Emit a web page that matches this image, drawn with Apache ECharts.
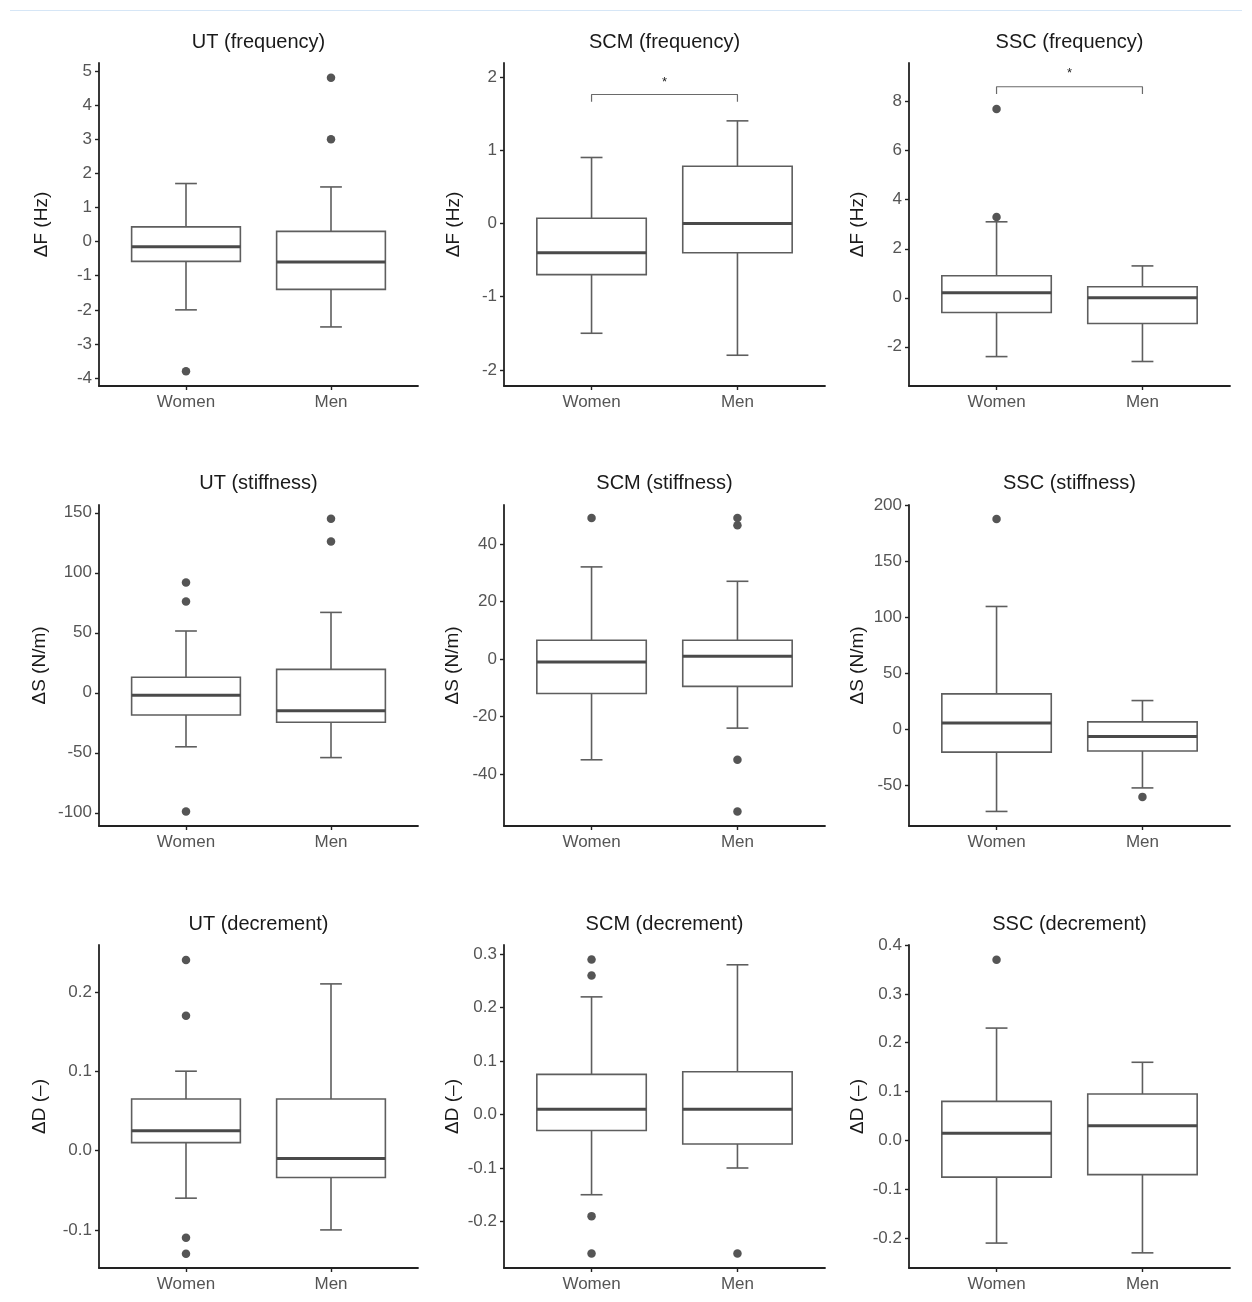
<!DOCTYPE html>
<html>
<head>
<meta charset="utf-8">
<title>Boxplots</title>
<script src="https://cdn.jsdelivr.net/npm/echarts@6/dist/echarts.min.js"></script>
<style>
  html, body { margin: 0; padding: 0; background: #ffffff; }
  #chart { width: 1252px; height: 1302px; }
</style>
</head>
<body>
<div id="chart"></div>
<script>
// categories
const groups = ['Women', 'Men'];

// box stats per group: [lower whisker, Q1, median, Q3, upper whisker]
const utFreqBox = [[-2.0, -0.58, -0.15, 0.43, 1.7], [-2.5, -1.4, -0.6, 0.3, 1.6]];
const scmFreqBox = [[-1.5, -0.7, -0.4, 0.07, 0.9], [-1.8, -0.4, 0.0, 0.78, 1.4]];
const sscFreqBox = [[-2.4, -0.6, 0.2, 0.9, 3.1], [-2.6, -1.05, 0.0, 0.45, 1.3]];
const utStiffBox = [[-45, -18.5, -2, 13, 51.5], [-54, -24.5, -15, 19.5, 67]];
const scmStiffBox = [[-35, -12, -1, 6.5, 32], [-24, -9.5, 1, 6.5, 27]];
const sscStiffBox = [[-73, -20, 6, 32, 110], [-52, -19, -6, 7, 26]];
const utDecBox = [[-0.06, 0.01, 0.025, 0.065, 0.1], [-0.1, -0.034, -0.01, 0.065, 0.21]];
const scmDecBox = [[-0.15, -0.03, 0.01, 0.075, 0.22], [-0.1, -0.055, 0.01, 0.08, 0.28]];
const sscDecBox = [[-0.21, -0.075, 0.015, 0.08, 0.23], [-0.23, -0.07, 0.03, 0.095, 0.16]];

// outliers per group
const utFreqOut = [[-3.8], [4.8, 3.0]];
const scmFreqOut = [[], []];
const sscFreqOut = [[7.7, 3.3], []];
const utStiffOut = [[92, 76, -99], [145, 126]];
const scmStiffOut = [[49], [49, 46.5, -35, -53]];
const sscStiffOut = [[188], [-60]];
const utDecOut = [[0.24, 0.17, -0.11, -0.13], []];
const scmDecOut = [[0.29, 0.26, -0.19, -0.26], [-0.26]];
const sscDecOut = [[0.37], []];

// y tick labels
const utFreqTicks = [-4, -3, -2, -1, 0, 1, 2, 3, 4, 5];
const scmFreqTicks = [-2, -1, 0, 1, 2];
const sscFreqTicks = [-2, 0, 2, 4, 6, 8];
const utStiffTicks = [-100, -50, 0, 50, 100, 150];
const scmStiffTicks = [-40, -20, 0, 20, 40];
const sscStiffTicks = [-50, 0, 50, 100, 150, 200];
const utDecTicks = [-0.1, 0.0, 0.1, 0.2];
const scmDecTicks = [-0.2, -0.1, 0.0, 0.1, 0.2, 0.3];
const sscDecTicks = [-0.2, -0.1, 0.0, 0.1, 0.2, 0.3, 0.4];

// y axis limits [min, max]
const utFreqRange = [-4.23, 5.23];
const scmFreqRange = [-2.22, 2.19];
const sscFreqRange = [-3.6, 9.58];
const utStiffRange = [-111, 156.5];
const scmStiffRange = [-58, 53.5];
const sscStiffRange = [-86, 200.6];
const utDecRange = [-0.148, 0.259];
const scmDecRange = [-0.287, 0.317];
const sscDecRange = [-0.261, 0.4];

// significance brackets: [bracket y, tip y, star y]
const scmFreqSig = [1.76, 1.66, 1.93];
const sscFreqSig = [8.61, 8.31, 9.15];

const panelTitles = [
  'UT (frequency)', 'SCM (frequency)', 'SSC (frequency)',
  'UT (stiffness)', 'SCM (stiffness)', 'SSC (stiffness)',
  'UT (decrement)', 'SCM (decrement)', 'SSC (decrement)'
];
const yNames = [
  'ΔF (Hz)', 'ΔF (Hz)', 'ΔF (Hz)',
  'ΔS (N/m)', 'ΔS (N/m)', 'ΔS (N/m)',
  'ΔD (–)', 'ΔD (–)', 'ΔD (–)'
];

const panels = [
  { box: utFreqBox, out: utFreqOut, ticks: utFreqTicks, range: utFreqRange, dec: 0 },
  { box: scmFreqBox, out: scmFreqOut, ticks: scmFreqTicks, range: scmFreqRange, dec: 0, sig: scmFreqSig },
  { box: sscFreqBox, out: sscFreqOut, ticks: sscFreqTicks, range: sscFreqRange, dec: 0, sig: sscFreqSig },
  { box: utStiffBox, out: utStiffOut, ticks: utStiffTicks, range: utStiffRange, dec: 0 },
  { box: scmStiffBox, out: scmStiffOut, ticks: scmStiffTicks, range: scmStiffRange, dec: 0 },
  { box: sscStiffBox, out: sscStiffOut, ticks: sscStiffTicks, range: sscStiffRange, dec: 0 },
  { box: utDecBox, out: utDecOut, ticks: utDecTicks, range: utDecRange, dec: 1 },
  { box: scmDecBox, out: scmDecOut, ticks: scmDecTicks, range: scmDecRange, dec: 1 },
  { box: sscDecBox, out: sscDecOut, ticks: sscDecTicks, range: sscDecRange, dec: 1 }
];

// layout
const colLeft = [99, 504, 909];
const colWidth = [319, 321, 321];
const rowTop = [63, 505, 945];
const rowHeight = [323, 321, 323];
const titleY = [41, 482, 923];
const nameGaps = [48, 41, 42, 50, 42, 42, 50, 42, 42];

const FONT = '"Liberation Sans", Arial, sans-serif';
const AXIS_COLOR = '#222';
const LABEL_COLOR = '#555';
const BOX_COLOR = '#5e5e5e';
const BOX_W = 0.75;
const CAP_W = 0.15;

function renderBox(params, api) {
  const x = api.value(0);
  const lo = api.coord([x, api.value(1)]);
  const q1 = api.coord([x, api.value(2)]);
  const med = api.coord([x, api.value(3)]);
  const q3 = api.coord([x, api.value(4)]);
  const hi = api.coord([x, api.value(5)]);
  const half = api.size([BOX_W, 0])[0] / 2;
  const cap = api.size([CAP_W, 0])[0] / 2;
  const cx = q1[0];
  const st = { stroke: BOX_COLOR, lineWidth: 1.6, fill: null };
  return {
    type: 'group',
    children: [
      { type: 'line', shape: { x1: cx, y1: q3[1], x2: cx, y2: hi[1] }, style: st },
      { type: 'line', shape: { x1: cx - cap, y1: hi[1], x2: cx + cap, y2: hi[1] }, style: st },
      { type: 'line', shape: { x1: cx, y1: q1[1], x2: cx, y2: lo[1] }, style: st },
      { type: 'line', shape: { x1: cx - cap, y1: lo[1], x2: cx + cap, y2: lo[1] }, style: st },
      { type: 'rect', shape: { x: cx - half, y: q3[1], width: half * 2, height: q1[1] - q3[1] },
        style: { fill: '#ffffff', stroke: BOX_COLOR, lineWidth: 1.6 } },
      { type: 'line', shape: { x1: cx - half, y1: med[1], x2: cx + half, y2: med[1] },
        style: { stroke: '#4a4a4a', lineWidth: 3 } }
    ]
  };
}

function renderStar(params, api) {
  const p = api.coord([api.value(0), api.value(1)]);
  return {
    type: 'text',
    x: p[0], y: p[1],
    style: { text: '*', fill: '#222', fontSize: 13, fontFamily: FONT, align: 'center', verticalAlign: 'middle' }
  };
}

const grids = [], xAxes = [], yAxes = [], titles = [], series = [];

panels.forEach((p, i) => {
  const r = Math.floor(i / 3), c = i % 3;
  grids.push({ left: colLeft[c], top: rowTop[r], width: colWidth[c], height: rowHeight[r] });
  titles.push({
    text: panelTitles[i],
    left: colLeft[c] + colWidth[c] / 2,
    top: titleY[r] - 9,
    textAlign: 'center',
    padding: 0,
    textStyle: { fontFamily: FONT, fontSize: 20, fontWeight: 'normal', color: '#1a1a1a' }
  });
  xAxes.push({
    gridIndex: i, type: 'value', min: 0.4, max: 2.6,
    axisLine: { show: true, onZero: false, lineStyle: { color: AXIS_COLOR, width: 1.8 } },
    axisTick: { show: true, customValues: [1, 2], length: 4, lineStyle: { color: AXIS_COLOR, width: 1.4 } },
    axisLabel: {
      customValues: [1, 2], margin: 8,
      formatter: v => groups[Math.round(v) - 1],
      color: LABEL_COLOR, fontSize: 17, fontFamily: FONT
    },
    splitLine: { show: false }
  });
  yAxes.push({
    gridIndex: i, type: 'value', min: p.range[0], max: p.range[1],
    name: yNames[i], nameLocation: 'middle', nameGap: nameGaps[i], nameRotate: 90,
    nameTextStyle: { fontFamily: FONT, fontSize: 19, color: '#1a1a1a' },
    axisLine: { show: true, onZero: false, lineStyle: { color: AXIS_COLOR, width: 1.8 } },
    axisTick: { show: true, customValues: p.ticks, length: 4, lineStyle: { color: AXIS_COLOR, width: 1.4 } },
    axisLabel: {
      customValues: p.ticks, margin: 7,
      formatter: v => Number(v).toFixed(p.dec),
      color: LABEL_COLOR, fontSize: 17, fontFamily: FONT
    },
    splitLine: { show: false }
  });
  series.push({
    type: 'custom', xAxisIndex: i, yAxisIndex: i,
    renderItem: renderBox,
    data: p.box.map((b, j) => [j + 1].concat(b)),
    z: 2
  });
  const outPts = [];
  p.out.forEach((vals, j) => vals.forEach(v => outPts.push([j + 1, v])));
  series.push({
    type: 'scatter', xAxisIndex: i, yAxisIndex: i,
    data: outPts, symbolSize: 8.5,
    itemStyle: { color: '#555555', opacity: 1 },
    z: 3
  });
  if (p.sig) {
    series.push({
      type: 'line', xAxisIndex: i, yAxisIndex: i,
      data: [[1, p.sig[1]], [1, p.sig[0]], [2, p.sig[0]], [2, p.sig[1]]],
      symbol: 'none',
      lineStyle: { color: '#6a6a6a', width: 1.2 },
      z: 3
    });
    series.push({
      type: 'custom', xAxisIndex: i, yAxisIndex: i,
      renderItem: renderStar,
      data: [[1.5, p.sig[2]]],
      z: 3
    });
  }
});

const chart = echarts.init(document.getElementById('chart'));
chart.setOption({
  animation: false,
  backgroundColor: '#ffffff',
  title: titles,
  grid: grids,
  xAxis: xAxes,
  yAxis: yAxes,
  series: series,
  graphic: [{
    type: 'line',
    shape: { x1: 10, y1: 10.5, x2: 1242, y2: 10.5 },
    style: { stroke: '#d6e6f6', lineWidth: 1 }
  }]
});
</script>
</body>
</html>
